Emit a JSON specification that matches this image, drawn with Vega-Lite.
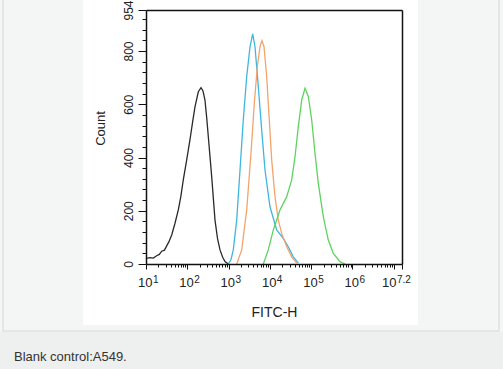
{
  "$schema": "https://vega.github.io/schema/vega-lite/v6.json",
  "width": 256,
  "height": 254,
  "autosize": {"type": "none"},
  "padding": {"left": 146, "top": 10, "right": 101, "bottom": 105},
  "background": "#f4f5f5",
  "config": {"view": {"stroke": null}, "axis": {"grid": false}},
  "datasets": {
    "hist": [
      {"s": "control", "fl": 10, "n": 21},
      {"s": "control", "fl": 12.5, "n": 24},
      {"s": "control", "fl": 15, "n": 22},
      {"s": "control", "fl": 18.1, "n": 31},
      {"s": "control", "fl": 21, "n": 36},
      {"s": "control", "fl": 24, "n": 48},
      {"s": "control", "fl": 28, "n": 52},
      {"s": "control", "fl": 31.7, "n": 68},
      {"s": "control", "fl": 36, "n": 84},
      {"s": "control", "fl": 41.9, "n": 109},
      {"s": "control", "fl": 50.4, "n": 153},
      {"s": "control", "fl": 60.6, "n": 203},
      {"s": "control", "fl": 70, "n": 255},
      {"s": "control", "fl": 80, "n": 316},
      {"s": "control", "fl": 97, "n": 392},
      {"s": "control", "fl": 116, "n": 466},
      {"s": "control", "fl": 135, "n": 535},
      {"s": "control", "fl": 154, "n": 591},
      {"s": "control", "fl": 185, "n": 647},
      {"s": "control", "fl": 215, "n": 662},
      {"s": "control", "fl": 240, "n": 650},
      {"s": "control", "fl": 268, "n": 616},
      {"s": "control", "fl": 295, "n": 550},
      {"s": "control", "fl": 323, "n": 478},
      {"s": "control", "fl": 390, "n": 328},
      {"s": "control", "fl": 469, "n": 165},
      {"s": "control", "fl": 540, "n": 95},
      {"s": "control", "fl": 620, "n": 53},
      {"s": "control", "fl": 720, "n": 25},
      {"s": "control", "fl": 819, "n": 9},
      {"s": "control", "fl": 984, "n": 0},
      {"s": "blue", "fl": 984, "n": 0},
      {"s": "blue", "fl": 1150, "n": 18},
      {"s": "blue", "fl": 1300, "n": 53},
      {"s": "blue", "fl": 1573, "n": 165},
      {"s": "blue", "fl": 1891, "n": 353},
      {"s": "blue", "fl": 2271, "n": 541},
      {"s": "blue", "fl": 2746, "n": 704},
      {"s": "blue", "fl": 3304, "n": 816},
      {"s": "blue", "fl": 3839, "n": 864},
      {"s": "blue", "fl": 4363, "n": 816},
      {"s": "blue", "fl": 5248, "n": 666},
      {"s": "blue", "fl": 6339, "n": 503},
      {"s": "blue", "fl": 7621, "n": 353},
      {"s": "blue", "fl": 10070, "n": 215},
      {"s": "blue", "fl": 14630, "n": 128},
      {"s": "blue", "fl": 21130, "n": 96},
      {"s": "blue", "fl": 27930, "n": 65},
      {"s": "blue", "fl": 36900, "n": 27},
      {"s": "blue", "fl": 48850, "n": 3},
      {"s": "orange", "fl": 1573, "n": 0},
      {"s": "orange", "fl": 2080, "n": 53},
      {"s": "orange", "fl": 2746, "n": 203},
      {"s": "orange", "fl": 3491, "n": 416},
      {"s": "orange", "fl": 4197, "n": 604},
      {"s": "orange", "fl": 4965, "n": 741},
      {"s": "orange", "fl": 5770, "n": 816},
      {"s": "orange", "fl": 6442, "n": 839},
      {"s": "orange", "fl": 7206, "n": 816},
      {"s": "orange", "fl": 8375, "n": 704},
      {"s": "orange", "fl": 9683, "n": 541},
      {"s": "orange", "fl": 11070, "n": 391},
      {"s": "orange", "fl": 13300, "n": 253},
      {"s": "orange", "fl": 15990, "n": 165},
      {"s": "orange", "fl": 19360, "n": 115},
      {"s": "orange", "fl": 25590, "n": 65},
      {"s": "orange", "fl": 33810, "n": 27},
      {"s": "orange", "fl": 44670, "n": 3},
      {"s": "green", "fl": 6934, "n": 0},
      {"s": "green", "fl": 9162, "n": 53},
      {"s": "green", "fl": 12110, "n": 128},
      {"s": "green", "fl": 17580, "n": 203},
      {"s": "green", "fl": 25590, "n": 253},
      {"s": "green", "fl": 33810, "n": 316},
      {"s": "green", "fl": 40640, "n": 403},
      {"s": "green", "fl": 48850, "n": 516},
      {"s": "green", "fl": 59020, "n": 616},
      {"s": "green", "fl": 70960, "n": 660},
      {"s": "green", "fl": 85310, "n": 629},
      {"s": "green", "fl": 103100, "n": 541},
      {"s": "green", "fl": 123900, "n": 416},
      {"s": "green", "fl": 148900, "n": 303},
      {"s": "green", "fl": 196800, "n": 178},
      {"s": "green", "fl": 260000, "n": 90},
      {"s": "green", "fl": 343600, "n": 40},
      {"s": "green", "fl": 498900, "n": 9},
      {"s": "green", "fl": 659200, "n": 0}
    ],
    "caption": [{"t": "Blank control:A549."}]
  },
  "resolve": {"axis": {"x": "independent", "y": "independent"}},
  "layer": [
    {
      "data": {"values": [{}]},
      "mark": {"type": "rect", "fill": "#ffffff", "clip": false},
      "encoding": {
        "x": {"datum": 0.2979, "type": "quantitative", "scale": {"type": "log", "domain": [10, 15848932]}, "axis": null},
        "x2": {"datum": 38730000},
        "y": {"datum": 1000, "type": "quantitative", "scale": {"domain": [0, 954], "nice": false, "zero": false}, "axis": null},
        "y2": {"datum": -229.1}
      }
    },
    {
      "data": {"values": [{}]},
      "mark": {"type": "rect", "fill": "#eeefef", "clip": false},
      "encoding": {
        "x": {"datum": 0.001, "type": "quantitative", "scale": {"type": "log", "domain": [10, 15848932]}, "axis": null},
        "x2": {"datum": 10000000000},
        "y": {"datum": -253.5, "type": "quantitative", "scale": {"domain": [0, 954], "nice": false, "zero": false}, "axis": null},
        "y2": {"datum": -420}
      }
    },
    {
      "data": {"values": [{}]},
      "mark": {"type": "rect", "fill": null, "stroke": "#d6d8d8", "strokeWidth": 1, "clip": false},
      "encoding": {
        "x": {"datum": 0.003443, "type": "quantitative", "scale": {"type": "log", "domain": [10, 15848932]}, "axis": null},
        "x2": {"datum": 3540000000},
        "y": {"datum": 1010, "type": "quantitative", "scale": {"domain": [0, 954], "nice": false, "zero": false}, "axis": null},
        "y2": {"datum": -251.6}
      }
    },
    {
      "data": {"name": "caption"},
      "mark": {"type": "text", "align": "left", "baseline": "middle", "font": "Liberation Sans", "fontSize": 13, "color": "#333333", "clip": false},
      "encoding": {
        "x": {"datum": 0.006353, "type": "quantitative", "scale": {"type": "log", "domain": [10, 15848932]}, "axis": null},
        "y": {"datum": -349.3, "type": "quantitative", "scale": {"domain": [0, 954], "nice": false, "zero": false}, "axis": null},
        "text": {"field": "t"}
      }
    },
    {
      "data": {"name": "hist"},
      "mark": {"type": "line", "strokeWidth": 1.3, "clip": true},
      "encoding": {
        "x": {
          "field": "fl", "type": "quantitative",
          "scale": {"type": "log", "domain": [10, 15848932]},
          "axis": {
            "orient": "bottom", "zindex": 2,
            "values": [10, 100, 1000, 10000, 100000, 1000000, 10000000, 15848932],
            "labelExpr": "datum.value > 5000000 && datum.value < 12000000 ? '' : '10'",
            "labelFlush": false, "labelOverlap": false, "labelAlign": "right",
            "labelOffset": {"condition": {"test": "datum.value > 12000000", "value": -6}, "value": 6},
            "labelFont": "Liberation Sans", "labelFontSize": 13, "labelColor": "#222222", "labelPadding": 7,
            "tickSize": 5, "tickColor": "#111111", "tickWidth": 1,
            "domainColor": "#111111", "domainWidth": 1.5,
            "title": "FITC-H", "titleFont": "Liberation Sans", "titleFontSize": 14, "titleFontWeight": "normal", "titleColor": "#222222", "titlePadding": 16
          }
        },
        "y": {
          "field": "n", "type": "quantitative",
          "scale": {"domain": [0, 954], "nice": false, "zero": false},
          "axis": {
            "orient": "left", "zindex": 2,
            "values": [0, 200, 400, 600, 800, 954],
            "labelAngle": 270, "labelAlign": "center", "labelBaseline": "bottom",
            "labelFont": "Liberation Sans", "labelFontSize": 12, "labelColor": "#222222", "labelPadding": 3,
            "labelFlush": false, "labelOverlap": false,
            "tickSize": 8, "tickColor": "#111111", "tickWidth": 1,
            "domainColor": "#111111", "domainWidth": 1.5,
            "title": "Count", "titleFont": "Liberation Sans", "titleFontSize": 13, "titleFontWeight": "normal", "titleColor": "#222222", "titlePadding": 15, "titleY": 118
          }
        },
        "color": {
          "field": "s", "type": "nominal",
          "scale": {"domain": ["control", "blue", "orange", "green"], "range": ["#2a2a2a", "#3fb6de", "#f2a46c", "#5fd35f"]},
          "legend": null
        },
        "order": {"field": "fl", "type": "quantitative"}
      }
    },
    {
      "data": {"values": [{}]},
      "mark": {"type": "point", "opacity": 0},
      "encoding": {
        "x": {
          "datum": 100, "type": "quantitative",
          "scale": {"type": "log", "domain": [10, 15848932]},
          "axis": {
            "orient": "bottom", "zindex": 2, "title": null, "ticks": false, "domain": false,
            "values": [10, 100, 1000, 10000, 100000, 1000000, 15848932],
            "labelExpr": "datum.value < 50 ? '1' : datum.value < 500 ? '2' : datum.value < 5000 ? '3' : datum.value < 50000 ? '4' : datum.value < 500000 ? '5' : datum.value < 5000000 ? '6' : '7.2'",
            "labelFlush": false, "labelOverlap": false, "labelAlign": "left",
            "labelOffset": {"condition": {"test": "datum.value > 12000000", "value": -5.5}, "value": 6.5},
            "labelFont": "Liberation Sans", "labelFontSize": 10, "labelColor": "#222222", "labelPadding": 10
          }
        },
        "y": {
          "datum": 100, "type": "quantitative",
          "scale": {"domain": [0, 954], "nice": false, "zero": false},
          "axis": null
        }
      }
    },
    {
      "data": {"values": [{}]},
      "mark": {"type": "point", "opacity": 0},
      "encoding": {
        "x": {
          "datum": 100, "type": "quantitative",
          "scale": {"type": "log", "domain": [10, 15848932]},
          "axis": {
            "orient": "bottom", "zindex": 2, "title": null, "labels": false, "domain": false,
            "values": [20, 30, 40, 50, 60, 70, 80, 90, 200, 300, 400, 500, 600, 700, 800, 900, 2000, 3000, 4000, 5000, 6000, 7000, 8000, 9000, 20000, 30000, 40000, 50000, 60000, 70000, 80000, 90000, 200000, 300000, 400000, 500000, 600000, 700000, 800000, 900000, 2000000, 3000000, 4000000, 5000000, 6000000, 7000000, 8000000, 9000000],
            "tickSize": 3, "tickColor": "#111111", "tickWidth": 1
          }
        },
        "y": {
          "datum": 100, "type": "quantitative",
          "scale": {"domain": [0, 954], "nice": false, "zero": false},
          "axis": {
            "orient": "left", "zindex": 2, "title": null, "labels": false, "domain": false,
            "values": [40, 80, 120, 160, 240, 280, 320, 360, 440, 480, 520, 560, 640, 680, 720, 760, 840, 880, 920],
            "tickSize": 4, "tickColor": "#111111", "tickWidth": 1
          }
        }
      }
    },
    {
      "data": {"values": [{}]},
      "mark": {"type": "point", "opacity": 0},
      "encoding": {
        "x": {
          "datum": 100, "type": "quantitative",
          "scale": {"type": "log", "domain": [10, 15848932]},
          "axis": {"orient": "top", "zindex": 2, "title": null, "labels": false, "ticks": false, "domainColor": "#111111", "domainWidth": 1.5, "values": []}
        },
        "y": {
          "datum": 100, "type": "quantitative",
          "scale": {"domain": [0, 954], "nice": false, "zero": false},
          "axis": {"orient": "right", "zindex": 2, "title": null, "labels": false, "ticks": false, "domainColor": "#111111", "domainWidth": 1.5, "values": []}
        }
      }
    }
  ]
}
